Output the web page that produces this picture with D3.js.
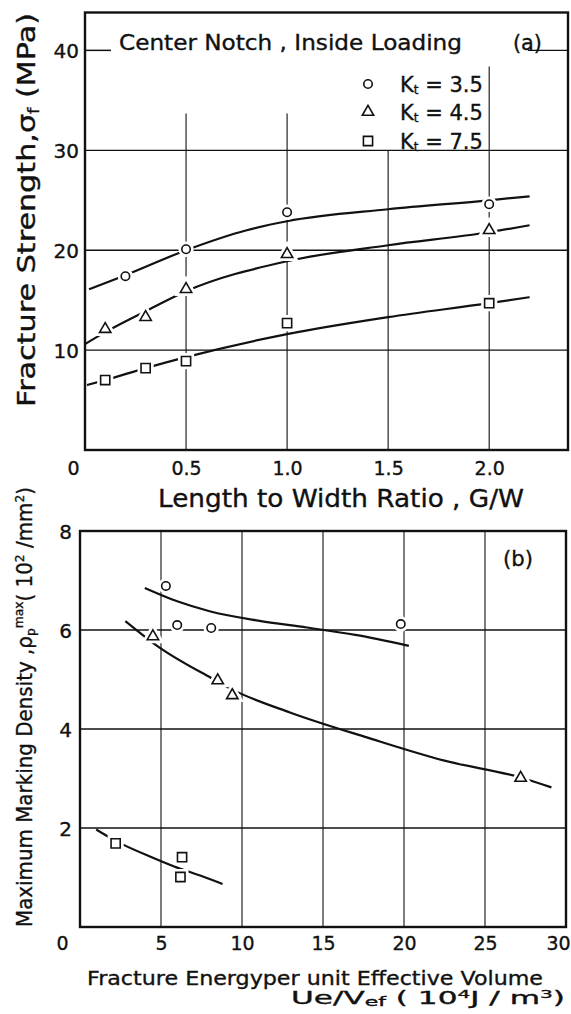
<!DOCTYPE html>
<html><head><meta charset="utf-8">
<script src="https://cdn.jsdelivr.net/npm/d3@7"></script>
<style>
body{margin:0;background:#fff}
svg{display:block}
text{font-family:"DejaVu Sans",sans-serif;fill:#111;stroke:#111;stroke-width:0.35px}
</style>
</head><body>
<svg id="c" width="571" height="1014"></svg>
<script>
// ---------- Panel (a) data ----------
const aLegend = ["3.5", "4.5", "7.5"];
const aXTicks = [0, 0.5, 1.0, 1.5, 2.0];
const aXTickLabels = ["0", "0.5", "1.0", "1.5", "2.0"];
const aYTicks = [10, 20, 30, 40];
const aGridX = [0.5, 1.0, 1.5, 2.0];
const aGridXTop = [33.7, 33.7, 30, 38.4];
const aCircleX = [0.2, 0.5, 1.0, 2.0];
const aCircleY = [17.4, 20.1, 23.8, 24.6];
const aTriX = [0.1, 0.3, 0.5, 1.0, 2.0];
const aTriY = [12.1, 13.3, 16.1, 19.6, 22.0];
const aSqX = [0.1, 0.3, 0.5, 1.0, 2.0];
const aSqY = [7.0, 8.2, 8.9, 12.7, 14.7];
const aCircleCurve = [[0.02,16.1],[0.2,17.5],[0.5,20.0],[0.8,22.0],[1.0,22.9],[1.5,24.1],[2.0,25.0],[2.2,25.4]];
const aTriCurve = [[0.0,10.6],[0.1,11.8],[0.3,13.9],[0.5,15.9],[1.0,18.9],[1.5,20.5],[2.0,21.8],[2.2,22.5]];
const aSqCurve = [[0.01,6.5],[0.1,7.0],[0.3,8.2],[0.5,9.3],[1.0,11.6],[1.5,13.3],[2.0,14.7],[2.2,15.3]];

// ---------- Panel (b) data ----------
const bXTicks = [0, 5, 10, 15, 20, 25, 30];
const bYTicks = [2, 4, 6, 8];
const bGridX = [5, 10, 15, 20, 25];
const bGridY = [2, 4, 6];
const bCircleX = [5.3, 6.0, 8.1, 19.8];
const bCircleY = [6.89, 6.10, 6.04, 6.12];
const bTriX = [4.5, 8.5, 9.4, 27.2];
const bTriY = [5.87, 4.98, 4.68, 3.01];
const bSqX = [2.2, 6.3, 6.2];
const bSqY = [1.69, 1.41, 1.01];
const bCircleCurve = [[4.0,6.85],[6,6.58],[8,6.38],[11,6.19],[14,6.05],[17,5.9],[20.3,5.68]];
const bTriCurve = [[2.8,6.18],[4.8,5.67],[8.1,5.03],[9.5,4.78],[13,4.33],[17.7,3.83],[22.5,3.36],[27.2,3.02],[29.1,2.82]];
const bSqCurve = [[1.0,1.97],[2.2,1.74],[4.5,1.4],[6,1.2],[7.5,1.03],[8.8,0.87]];

const svg = d3.select("#c");
const INK = "#111";

const xa = d3.scaleLinear().domain([0, 2.39]).range([85, 568]);
const ya = d3.scaleLinear().domain([0, 43.8]).range([450, 12.5]);
const xb = d3.scaleLinear().domain([0, 30]).range([80, 566]);
const yb = d3.scaleLinear().domain([0, 8]).range([927, 531]);

const sym = {
  circle: d3.symbol().type(d3.symbolCircle).size(56),
  tri: d3.symbol().type(d3.symbolTriangle).size(56),
  sq: d3.symbol().type(d3.symbolSquare).size(84)
};

function marks(g, xs, ys, x, y, kind) {
  const pts = xs.map((v, i) => [v, ys[i]]);
  g.selectAll(null).data(pts).join("path")
    .attr("d", sym[kind]).attr("transform", d => `translate(${x(d[0])},${y(d[1])})`)
    .attr("fill", "#fff").attr("stroke", "#fff").attr("stroke-width", 7);
  g.selectAll(null).data(pts).join("path")
    .attr("d", sym[kind]).attr("transform", d => `translate(${x(d[0])},${y(d[1])})`)
    .attr("fill", "#fff").attr("stroke", INK).attr("stroke-width", 1.6);
}
function curve(g, data, x, y) {
  g.append("path").datum(data)
    .attr("d", d3.line().x(d => x(d[0])).y(d => y(d[1])).curve(d3.curveMonotoneX))
    .attr("fill", "none").attr("stroke", INK).attr("stroke-width", 2.2);
}
function styleTicks(sel, size) {
  sel.selectAll("text").attr("font-size", size).attr("fill", INK).attr("stroke", INK)
    .attr("stroke-width", 0.35).attr("font-family", '"DejaVu Sans",sans-serif');
}

// ================= Panel (a) =================
const ga = svg.append("g");
ga.selectAll(null).data(aYTicks).join("line")
  .attr("x1", xa(0)).attr("x2", xa.range()[1]).attr("y1", d => ya(d)).attr("y2", d => ya(d))
  .attr("stroke", INK).attr("stroke-width", 1.3);
ga.selectAll(null).data(aGridX).join("line")
  .attr("x1", d => xa(d)).attr("x2", d => xa(d)).attr("y1", ya(0)).attr("y2", (d, i) => ya(aGridXTop[i]))
  .attr("stroke", INK).attr("stroke-width", 1.1);

const tA = ga.append("text").attr("x", 119).attr("y", 50).attr("font-size", 21)
  .attr("textLength", 343).attr("lengthAdjust", "spacingAndGlyphs")
  .text("Center Notch , Inside Loading");
ga.append("text").attr("x", 513).attr("y", 50).attr("font-size", 21)
  .attr("textLength", 29).attr("lengthAdjust", "spacingAndGlyphs").text("(a)");
const bb = tA.node().getBBox();
ga.insert("rect", "text").attr("x", bb.x - 8).attr("y", ya(40) - 3).attr("width", 528 - (bb.x - 8)).attr("height", 6).attr("fill", "#fff");

// legend
const legKinds = ["circle", "tri", "sq"];
const legY = [85, 113, 142];
const lg = ga.append("g");
aLegend.forEach((v, i) => {
  lg.append("path").attr("d", sym[legKinds[i]]).attr("transform", `translate(368,${legY[i] - 1})`)
    .attr("fill", "#fff").attr("stroke", INK).attr("stroke-width", 1.6);
  const t = lg.append("text").attr("x", 400).attr("y", legY[i] + 7).attr("font-size", 21);
  t.append("tspan").text("K");
  t.append("tspan").attr("font-size", 12).attr("dy", 2).text("t");
  t.append("tspan").attr("dy", -2).text(" = " + v);
});

curve(ga, aCircleCurve, xa, ya);
curve(ga, aTriCurve, xa, ya);
curve(ga, aSqCurve, xa, ya);
marks(ga, aCircleX, aCircleY, xa, ya, "circle");
marks(ga, aTriX, aTriY, xa, ya, "tri");
marks(ga, aSqX, aSqY, xa, ya, "sq");

ga.append("rect").attr("x", xa(0)).attr("y", ya(43.8)).attr("width", xa.range()[1] - xa(0)).attr("height", ya(0) - ya(43.8))
  .attr("fill", "none").attr("stroke", INK).attr("stroke-width", 2.4);

const axA = ga.append("g").attr("transform", `translate(0,${ya(0)})`)
  .call(d3.axisBottom(xa).tickValues(aXTicks).tickFormat((d, i) => aXTickLabels[i]).tickSize(0));
axA.select(".domain").remove();
styleTicks(axA, 19);
axA.selectAll("text").attr("y", 18).attr("dy", "0.36em").attr("dx", d => d === 0 ? -12 : 0);
const ayA = ga.append("g").attr("transform", `translate(${xa(0)},0)`)
  .call(d3.axisLeft(ya).tickValues(aYTicks).tickSize(0));
ayA.select(".domain").remove();
ayA.selectAll("line").remove();
styleTicks(ayA, 20);
ayA.selectAll("text").attr("x", -6).attr("dy", "0.36em");
ga.append("line").attr("x1", xa(0)).attr("x2", xa(0) + 26).attr("y1", ya(40)).attr("y2", ya(40)).attr("stroke", INK).attr("stroke-width", 1.3);

ga.append("text").attr("x", 158).attr("y", 507).attr("font-size", 24)
  .attr("textLength", 366).attr("lengthAdjust", "spacingAndGlyphs").text("Length to Width Ratio , G/W");
const yta = ga.append("text").attr("transform", "translate(35,407) rotate(-90)").attr("font-size", 25)
  .attr("textLength", 394).attr("lengthAdjust", "spacingAndGlyphs");
yta.append("tspan").text("Fracture  Strength,σ");
yta.append("tspan").attr("font-size", 15).attr("dy", 4).text("f");
yta.append("tspan").attr("dy", -4).text("  (MPa)");

// ================= Panel (b) =================
const gb = svg.append("g");
gb.selectAll(null).data(bGridY).join("line")
  .attr("x1", xb(0)).attr("x2", xb(30)).attr("y1", d => yb(d)).attr("y2", d => yb(d))
  .attr("stroke", INK).attr("stroke-width", 1.3);
gb.selectAll(null).data(bGridX).join("line")
  .attr("x1", d => xb(d)).attr("x2", d => xb(d)).attr("y1", yb(0)).attr("y2", yb(8))
  .attr("stroke", INK).attr("stroke-width", 1.1);

curve(gb, bCircleCurve, xb, yb);
curve(gb, bTriCurve, xb, yb);
curve(gb, bSqCurve, xb, yb);
marks(gb, bCircleX, bCircleY, xb, yb, "circle");
marks(gb, bTriX, bTriY, xb, yb, "tri");
marks(gb, bSqX, bSqY, xb, yb, "sq");

gb.append("rect").attr("x", xb(0)).attr("y", yb(8)).attr("width", xb(30) - xb(0)).attr("height", yb(0) - yb(8))
  .attr("fill", "none").attr("stroke", INK).attr("stroke-width", 2.4);

gb.append("text").attr("x", 503).attr("y", 566).attr("font-size", 21)
  .attr("textLength", 30).attr("lengthAdjust", "spacingAndGlyphs").text("(b)");

const axB = gb.append("g").attr("transform", `translate(0,${yb(0)})`)
  .call(d3.axisBottom(xb).tickValues(bXTicks).tickSize(0));
axB.select(".domain").remove();
styleTicks(axB, 19);
axB.selectAll("text").attr("y", 16).attr("dy", "0.36em").attr("dx", d => d === 0 ? -18 : (d === 30 ? -8 : 0));
const ayB = gb.append("g").attr("transform", `translate(${xb(0)},0)`)
  .call(d3.axisLeft(yb).tickValues(bYTicks).tickSize(0));
ayB.select(".domain").remove();
styleTicks(ayB, 20);
ayB.selectAll("text").attr("x", -8).attr("dy", "0.36em");

gb.append("text").attr("x", 87).attr("y", 985).attr("font-size", 20)
  .attr("textLength", 456).attr("lengthAdjust", "spacingAndGlyphs").text("Fracture Energyper unit  Effective Volume");
const ue = gb.append("text").attr("x", 291).attr("y", 1004).attr("font-size", 17)
  .attr("textLength", 274).attr("lengthAdjust", "spacingAndGlyphs");
ue.append("tspan").text("Ue/V");
ue.append("tspan").attr("font-size", 12).attr("dy", 2).text("ef");
ue.append("tspan").attr("dy", -2).text("   ( 10");
ue.append("tspan").attr("font-size", 11).attr("dy", -6).text("4");
ue.append("tspan").attr("dy", 6).text("J / m");
ue.append("tspan").attr("font-size", 11).attr("dy", -6).text("3");
ue.append("tspan").attr("dy", 6).text(")");

const ytb = gb.append("text").attr("transform", "translate(32,927) rotate(-90)").attr("font-size", 21)
  .attr("textLength", 440).attr("lengthAdjust", "spacingAndGlyphs");
ytb.append("tspan").text("Maximum  Marking  Density ,ρ");
ytb.append("tspan").attr("font-size", 13).attr("dy", 3).text("p");
ytb.append("tspan").attr("font-size", 13).attr("dy", -12).text("max");
ytb.append("tspan").attr("dy", 9).text("( 10");
ytb.append("tspan").attr("font-size", 13).attr("dy", -8).text("2");
ytb.append("tspan").attr("dy", 8).text(" /mm");
ytb.append("tspan").attr("font-size", 13).attr("dy", -8).text("2");
ytb.append("tspan").attr("dy", 8).text(")");
</script>
</body></html>
